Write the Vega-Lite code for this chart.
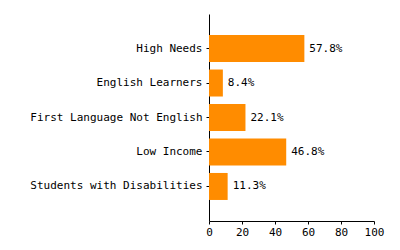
{
  "$schema": "https://vega.github.io/schema/vega-lite/v6.json",
  "width": 165,
  "height": 207,
  "autosize": {"type": "none"},
  "padding": {"left": 209, "top": 14, "right": 26, "bottom": 29},
  "background": "white",
  "config": {
    "view": {"stroke": null},
    "font": "DejaVu Sans Mono",
    "axis": {
      "labelFont": "DejaVu Sans Mono",
      "labelFontSize": 11,
      "labelColor": "#000000",
      "domainColor": "#000000",
      "tickColor": "#000000",
      "grid": false,
      "tickSize": 3,
      "title": null
    }
  },
  "data": {
    "values": [
      {"group": "High Needs", "pct": 57.8, "label": "57.8%"},
      {"group": "English Learners", "pct": 8.4, "label": "8.4%"},
      {"group": "First Language Not English", "pct": 22.1, "label": "22.1%"},
      {"group": "Low Income", "pct": 46.8, "label": "46.8%"},
      {"group": "Students with Disabilities", "pct": 11.3, "label": "11.3%"}
    ]
  },
  "encoding": {
    "y": {
      "field": "group",
      "type": "nominal",
      "sort": null,
      "scale": {"paddingInner": 0.217, "paddingOuter": 0.61},
      "axis": {"labelPadding": 4, "labelLimit": 300}
    },
    "x": {
      "field": "pct",
      "type": "quantitative",
      "scale": {"domain": [0, 100], "nice": false},
      "axis": {"values": [0, 20, 40, 60, 80, 100], "labelPadding": 2, "labelFlush": false}
    }
  },
  "layer": [
    {"mark": {"type": "bar", "color": "#ff8c00"}},
    {
      "mark": {"type": "text", "align": "left", "baseline": "middle", "dx": 5, "fontSize": 11, "font": "DejaVu Sans Mono", "color": "#000000"},
      "encoding": {
        "text": {"field": "label", "type": "nominal"}
      }
    }
  ]
}
